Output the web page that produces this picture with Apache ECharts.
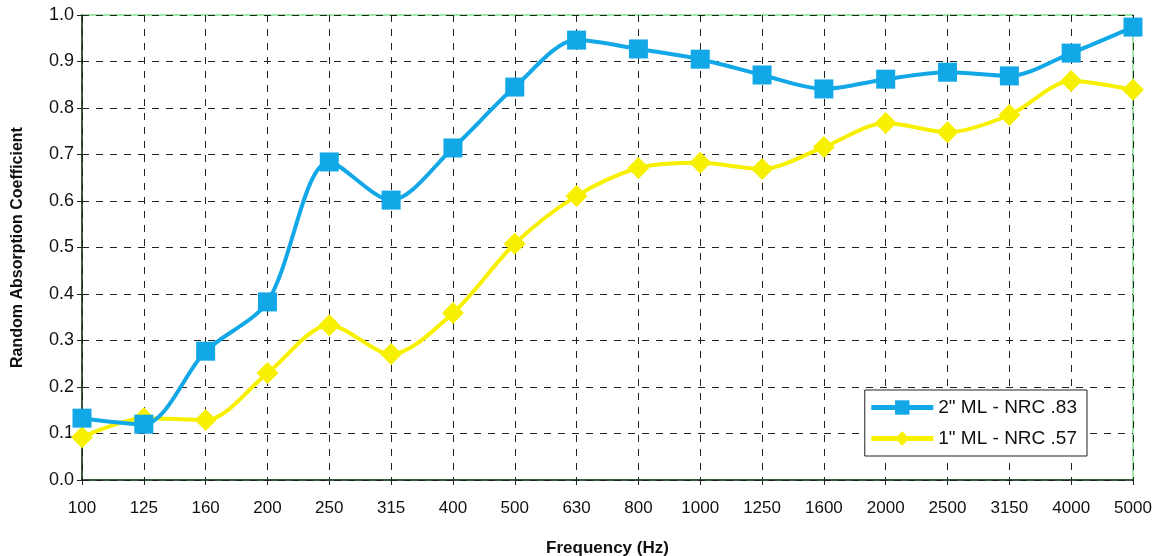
<!DOCTYPE html>
<html><head><meta charset="utf-8">
<script src="https://cdn.jsdelivr.net/npm/echarts@6/dist/echarts.min.js"></script>
<style>html,body{margin:0;padding:0;background:#fff}#c{width:1159px;height:556px}</style>
</head><body><div id="c"></div>
<script>
const categories = ['100','125','160','200','250','315','400','500','630','800','1000','1250','1600','2000','2500','3150','4000','5000'];
const series2in = [0.133,0.12,0.277,0.383,0.684,0.602,0.714,0.845,0.946,0.927,0.905,0.871,0.841,0.862,0.877,0.869,0.918,0.974];
const series1in = [0.092,0.133,0.129,0.23,0.333,0.271,0.359,0.508,0.611,0.671,0.682,0.669,0.716,0.768,0.748,0.785,0.858,0.839];
const yTicks = ['0.0','0.1','0.2','0.3','0.4','0.5','0.6','0.7','0.8','0.9','1.0'];

const chart = echarts.init(document.getElementById('c'));
const font = 'Liberation Sans, Arial, sans-serif';
chart.setOption({
  animation: false,
  grid: {left: 82, right: 26, top: 15, bottom: 76, show: true, borderColor: '#7ee08a', borderWidth: 1.5,
         containLabel: false, outerBoundsMode: 'none'},
  legend: {
    right: 72, top: 390, orient: 'vertical', itemGap: 12, itemWidth: 62, itemHeight: 18,
    backgroundColor: '#fff', borderColor: '#222', borderWidth: 1, padding: [8, 10, 8, 4],
    textStyle: {fontFamily: font, fontSize: 19, color: '#111'},
    lineStyle: {width: 5},
    data: ['2" ML - NRC .83', '1" ML - NRC .57']
  },
  xAxis: {
    type: 'category', data: categories, boundaryGap: false,
    name: 'Frequency (Hz)', nameLocation: 'middle', nameGap: 60,
    nameTextStyle: {fontFamily: font, fontSize: 17, fontWeight: 'bold', color: '#111'},
    axisLine: {lineStyle: {color: '#1a2a1a', width: 1.5}},
    axisTick: {show: true, alignWithLabel: true, length: 5, lineStyle: {color: '#222'}},
    axisLabel: {fontFamily: font, fontSize: 17, color: '#111', margin: 20},
    splitLine: {show: true, lineStyle: {type: [7, 7], color: '#222', width: 1}}
  },
  yAxis: {
    type: 'value', min: 0, max: 1, interval: 0.1,
    name: 'Random Absorption Coefficient', nameLocation: 'middle', nameGap: 56,
    nameTextStyle: {fontFamily: font, fontSize: 16, fontWeight: 'bold', color: '#111'},
    axisLine: {show: true, lineStyle: {color: '#1a2a1a', width: 1.5}},
    axisTick: {show: true, length: 5, lineStyle: {color: '#222'}},
    axisLabel: {fontFamily: font, fontSize: 18, color: '#111', margin: 8,
      formatter: (v) => yTicks[Math.round(v * 10)]},
    splitLine: {show: true, lineStyle: {type: [7, 7], color: '#222', width: 1}}
  },
  series: [
    {name: '2" ML - NRC .83', type: 'line', data: series2in, smooth: 0.3,
     symbol: 'rect', symbolSize: 19, z: 3,
     lineStyle: {color: '#12a8e8', width: 4}, itemStyle: {color: '#12a8e8'}},
    {name: '1" ML - NRC .57', type: 'line', data: series1in, smooth: 0.3,
     symbol: 'diamond', symbolSize: 22, z: 2,
     lineStyle: {color: '#f7f000', width: 4}, itemStyle: {color: '#f7f000'}}
  ]
});
</script></body></html>
